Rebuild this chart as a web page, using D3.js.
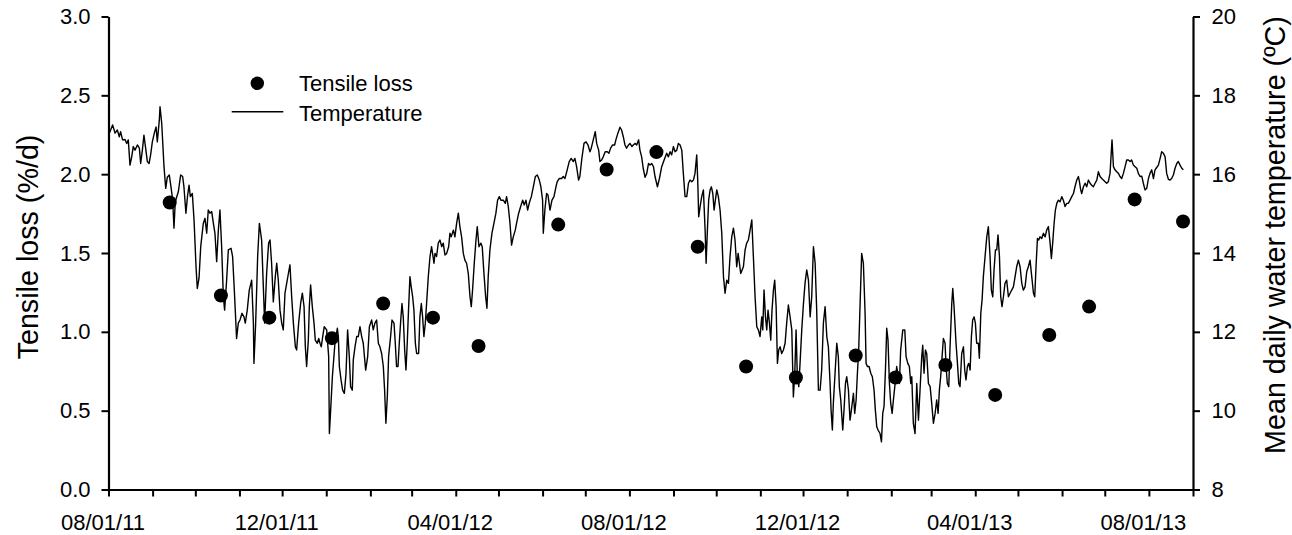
<!DOCTYPE html>
<html>
<head>
<meta charset="utf-8">
<script src="https://cdn.jsdelivr.net/npm/d3@7"></script>
<style>
  html, body { margin: 0; padding: 0; background: #fff; }
  svg { display: block; font-family: "Liberation Sans", Arial, Helvetica, sans-serif; }
</style>
</head>
<body>
<svg id="chart" width="1292" height="535"></svg>
<script>
// Tensile loss sampling dates and rates (%/d)
const tensileDates = ["2011-09-13","2011-10-19","2011-11-22","2012-01-05","2012-02-10","2012-03-16",
  "2012-04-17","2012-06-12","2012-07-16","2012-08-20","2012-09-18","2012-10-22","2012-11-26",
  "2013-01-07","2013-02-04","2013-03-11","2013-04-15","2013-05-23","2013-06-20","2013-07-22","2013-08-25"];
const tensileLoss = [1.82,1.23,1.09,0.96,1.18,1.09,0.91,1.68,2.03,2.14,1.54,0.78,0.71,0.85,0.71,0.79,0.60,0.98,1.16,1.84,1.70];

// Mean daily water temperature: [days since record start, °C]
const tempStart = "2011-08-01";
const temperatureReadings = [
[0,16.99],[2.9,17.25],[4.6,17.04],[6.2,17.12],[7.6,16.95],[8.5,17.08],[9.9,16.87],[11.6,16.88],[12.8,16.78],[13.9,16.87],
[15.1,16.23],[16.3,16.44],[17.4,16.70],[18.6,16.61],[20.3,16.74],[21.7,16.66],[22.6,16.27],[23.8,16.61],[24.9,16.99],[26.1,16.66],
[27.3,16.32],[28.5,16.27],[29.6,16.49],[30.8,16.82],[32.2,17.04],[33.4,17.20],[34.3,16.82],[35.7,17.37],[36.2,17.71],[37.4,17.29],
[39.0,16.19],[40.2,15.64],[41.3,15.92],[42.7,15.98],[43.9,15.68],[45.1,15.34],[46.0,14.63],[46.9,15.30],[49.1,15.56],[50.7,15.98],
[52.1,15.94],[53.0,15.68],[54.4,15.01],[55.6,15.47],[56.6,15.72],[57.5,15.43],[58.9,15.51],[60.1,14.84],[61.5,13.65],[62.4,13.10],
[63.6,13.36],[64.8,14.16],[66.6,14.75],[67.8,14.88],[69.0,14.50],[70.1,15.09],[71.3,15.01],[72.5,15.05],[73.7,14.75],[74.8,14.50],
[76.0,13.78],[77.2,14.58],[78.3,15.09],[79.5,14.16],[80.7,12.89],[81.6,12.55],[83.0,13.31],[84.2,14.08],[86.1,14.12],[87.2,13.91],
[88.4,13.06],[90.0,11.83],[91.2,12.22],[92.4,12.30],[93.8,12.47],[95.2,12.38],[96.1,12.22],[97.5,12.55],[98.9,13.06],[100.6,13.31],
[101.8,12.22],[102.2,11.20],[103.4,12.22],[104.8,13.91],[106.0,14.75],[107.6,14.33],[108.8,13.14],[109.7,12.22],[111.1,13.48],[112.5,14.25],
[113.5,14.33],[114.6,13.74],[115.8,12.76],[117.2,13.40],[118.2,13.74],[119.3,13.31],[120.5,12.55],[121.7,12.22],[122.8,12.05],[124.0,12.98],
[125.2,13.23],[126.4,13.48],[127.5,13.70],[128.7,12.89],[129.9,12.22],[131.3,11.62],[132.2,11.54],[133.6,12.22],[135.0,12.72],[136.2,12.98],
[137.4,12.64],[138.3,11.62],[139.2,11.12],[140.4,11.79],[141.1,12.64],[142.0,13.19],[143.2,12.64],[144.4,12.22],[145.3,11.79],[146.7,11.71],
[147.7,11.83],[148.6,11.71],[149.5,11.62],[150.5,11.88],[151.6,12.13],[153.3,12.05],[154.7,11.37],[155.2,9.42],[156.1,10.02],[157.3,10.86],
[159.1,11.71],[159.8,11.88],[160.8,12.09],[161.5,11.88],[162.2,11.12],[163.4,10.78],[164.5,10.52],[165.7,10.44],[166.9,10.95],[168.0,12.05],
[169.2,11.37],[170.1,10.61],[171.3,10.52],[172.0,11.29],[173.2,11.62],[174.4,11.88],[175.5,11.88],[176.7,12.13],[177.9,11.88],[179.0,11.71],
[180.7,11.03],[182.1,11.37],[183.3,12.13],[184.9,12.30],[186.0,12.05],[187.2,12.22],[188.4,12.30],[189.6,11.71],[190.7,11.62],[191.9,11.45],
[193.1,11.12],[194.0,10.52],[194.9,9.68],[195.9,10.35],[196.8,11.37],[198.2,11.88],[199.2,12.30],[200.6,12.22],[201.5,11.71],[202.4,11.12],
[203.4,11.12],[204.3,11.71],[205.2,12.22],[206.2,12.72],[207.1,12.38],[208.1,11.54],[209.0,11.03],[209.9,11.71],[210.9,12.64],[211.8,13.40],
[212.7,13.14],[213.7,12.89],[214.6,12.55],[215.6,11.71],[216.5,11.45],[217.9,11.45],[218.8,12.38],[219.8,12.72],[220.7,12.38],[221.6,11.88],
[222.6,12.22],[223.5,12.72],[224.7,13.40],[225.9,13.91],[227.0,14.16],[227.7,13.99],[228.7,13.74],[229.4,13.99],[230.5,13.91],[231.7,14.25],
[232.9,14.33],[234.1,14.16],[235.2,14.25],[236.4,13.95],[237.6,13.99],[239.0,14.16],[239.9,14.50],[240.8,14.41],[242.3,14.58],[243.4,14.41],
[244.6,14.75],[245.8,15.01],[246.9,14.67],[248.1,14.41],[249.3,13.99],[250.4,13.82],[251.6,13.74],[252.8,13.48],[254.0,12.89],[254.9,12.64],
[255.8,13.06],[257.0,13.74],[258.2,14.33],[259.1,14.67],[260.3,14.16],[261.7,14.25],[262.6,14.16],[263.8,13.48],[265.0,12.89],[265.9,12.60],
[266.8,13.40],[268.0,14.08],[269.4,14.50],[270.8,14.75],[272.2,15.01],[273.4,15.34],[274.6,15.43],[275.7,15.34],[277.4,15.34],[278.8,15.26],
[279.7,15.43],[280.9,15.18],[282.1,14.75],[283.2,14.20],[284.4,14.41],[285.8,14.58],[286.7,14.75],[288.2,15.01],[289.6,15.18],[291.0,15.34],
[292.1,15.22],[293.3,15.34],[294.5,15.09],[295.6,15.26],[297.1,15.43],[298.5,15.68],[299.9,15.94],[301.3,15.98],[302.7,15.85],[303.8,15.68],
[305.0,15.34],[305.5,14.50],[306.6,15.09],[307.8,15.51],[308.8,15.47],[310.2,15.09],[311.6,15.34],[313.0,15.43],[314.4,15.68],[315.3,15.81],
[316.7,15.89],[318.4,15.89],[319.5,15.94],[320.7,15.89],[322.3,16.11],[323.7,16.32],[325.1,16.40],[326.6,16.32],[327.7,16.40],[328.9,16.19],
[330.3,15.85],[331.2,15.94],[332.6,16.40],[334.1,16.78],[335.5,16.82],[336.9,16.74],[338.3,16.57],[339.2,16.66],[340.6,16.87],[342.0,17.08],
[343.0,16.78],[344.4,16.61],[345.3,16.32],[346.5,16.36],[347.6,16.44],[349.0,16.57],[350.5,16.57],[351.6,16.53],[352.8,16.66],[354.2,16.74],
[355.6,16.74],[356.5,16.87],[357.9,17.04],[359.4,17.19],[360.5,17.12],[361.7,16.95],[362.9,16.74],[364.0,16.66],[365.4,16.74],[366.4,16.78],
[367.8,16.70],[368.7,16.74],[370.1,16.78],[371.1,16.74],[372.5,16.87],[373.4,16.61],[374.6,16.44],[375.7,16.15],[377.0,15.92],[378.2,16.02],
[379.4,16.27],[380.5,16.23],[381.7,16.27],[382.9,16.19],[384.0,15.94],[385.7,15.68],[387.1,15.89],[388.7,16.19],[390.4,16.36],[392.2,16.53],
[393.4,16.44],[394.6,16.57],[395.7,16.49],[396.9,16.70],[398.1,16.57],[399.3,16.61],[400.4,16.78],[401.6,16.74],[402.8,16.61],[403.9,16.02],
[405.1,15.43],[406.3,15.43],[407.5,15.77],[408.6,15.85],[409.8,15.81],[411.0,15.85],[412.1,16.02],[413.3,16.49],[414.0,15.85],[414.7,14.92],
[415.7,15.18],[416.8,15.43],[418.0,15.60],[419.2,14.58],[419.9,13.74],[420.8,14.58],[421.7,15.34],[422.7,15.60],[423.6,15.68],[424.6,15.51],
[425.5,15.09],[426.4,15.34],[427.4,15.60],[428.5,15.43],[429.7,15.09],[430.9,14.50],[432.1,13.40],[433.2,12.98],[434.4,13.31],[435.6,13.23],
[436.7,13.91],[437.9,14.41],[439.1,14.63],[440.2,14.33],[441.4,13.65],[442.4,13.99],[443.3,13.74],[444.2,13.48],[445.2,13.57],[446.1,13.65],
[447.3,14.08],[448.4,14.25],[449.6,14.33],[450.8,14.58],[452.0,14.84],[453.1,13.91],[454.3,12.89],[455.5,12.13],[456.6,12.05],[457.8,11.88],
[459.0,12.38],[459.7,12.05],[460.6,13.06],[461.6,12.38],[462.5,12.05],[463.4,12.55],[464.4,12.22],[465.3,11.79],[466.2,12.55],[467.2,13.06],
[468.1,13.31],[469.1,12.64],[470.0,11.20],[470.9,11.54],[471.9,11.62],[473.0,11.45],[474.2,11.54],[475.4,11.71],[476.5,12.22],[477.7,12.68],
[478.9,12.38],[480.1,12.05],[481.2,10.35],[482.2,10.95],[483.1,12.05],[484.0,10.86],[485.0,10.61],[485.9,11.20],[487.1,12.05],[488.3,12.72],
[489.4,13.23],[490.6,13.57],[491.8,13.31],[493.0,12.38],[494.1,12.89],[495.3,14.16],[496.5,13.74],[497.6,12.55],[498.8,10.52],[500.0,10.52],
[501.1,11.03],[502.3,12.22],[503.5,12.64],[504.7,11.88],[505.8,11.62],[507.0,10.69],[507.7,10.02],[508.6,9.51],[509.3,10.19],[510.5,10.95],
[511.7,11.71],[512.8,11.37],[513.5,10.61],[514.5,10.27],[515.9,9.51],[516.8,10.02],[517.8,10.69],[518.7,10.86],[519.9,10.52],[521.0,9.76],
[522.0,10.02],[523.4,10.44],[524.3,9.93],[525.3,10.27],[526.2,10.95],[527.1,11.54],[528.1,12.72],[529.2,13.99],[530.4,13.74],[531.6,12.47],
[532.3,11.20],[533.2,11.12],[534.4,11.12],[535.6,10.95],[536.7,10.86],[537.9,10.52],[538.8,10.02],[539.8,9.59],[540.7,9.51],[542.1,9.42],
[543.1,9.21],[544.0,9.93],[544.9,10.10],[545.9,11.03],[546.8,12.09],[547.7,11.79],[548.7,10.69],[549.6,10.19],[550.6,9.93],[551.5,10.27],
[552.7,10.69],[553.8,11.12],[555.0,10.86],[555.7,10.69],[556.6,11.54],[558.1,12.05],[559.5,12.05],[560.4,11.37],[561.6,11.20],[562.7,11.12],
[563.7,10.69],[564.4,10.86],[565.5,9.68],[566.7,9.42],[567.9,10.69],[569.1,9.76],[570.2,10.52],[571.4,11.37],[572.1,11.66],[573.0,10.95],
[574.0,11.54],[574.9,11.45],[576.1,10.69],[577.3,10.61],[578.4,10.19],[579.6,9.68],[580.8,9.93],[581.9,10.27],[582.9,9.93],[583.8,10.52],
[584.7,10.86],[585.7,11.37],[586.6,11.83],[587.8,11.71],[588.5,11.12],[589.4,10.69],[590.4,10.61],[591.3,11.62],[592.5,12.72],[593.2,13.10],
[594.1,12.64],[595.5,11.71],[596.5,11.20],[597.4,10.69],[598.3,10.61],[599.5,11.45],[600.7,11.62],[601.6,11.03],[602.5,10.78],[603.5,11.12],
[604.4,11.20],[605.4,11.03],[606.3,11.88],[607.2,12.30],[608.2,12.38],[609.1,12.22],[610.0,11.71],[611.2,11.71],[611.9,11.33],[612.9,12.47],
[613.8,12.81],[614.7,13.40],[615.9,13.91],[617.1,14.41],[618.2,14.67],[619.4,13.91],[620.3,13.06],[621.3,12.89],[622.2,13.57],[623.2,14.08],
[624.1,14.08],[625.0,14.46],[626.0,13.91],[626.9,12.89],[627.8,12.64],[628.8,12.89],[629.9,13.23],[631.1,13.31],[632.3,12.89],[633.5,12.98],
[634.6,13.06],[635.8,13.14],[637.0,13.40],[638.1,13.65],[639.3,13.82],[640.5,13.65],[641.7,13.23],[642.8,13.06],[644.0,13.14],[645.2,13.53],
[646.3,13.65],[647.5,13.82],[648.7,13.40],[649.9,12.98],[650.8,12.89],[651.7,13.65],[652.7,14.37],[653.6,14.33],[654.5,14.41],[655.7,14.37],
[656.9,14.50],[658.1,14.41],[659.2,14.58],[660.4,14.67],[661.6,14.25],[662.5,13.86],[663.4,14.25],[664.4,14.75],[665.3,15.09],[666.3,15.26],
[667.4,15.34],[668.6,15.30],[669.8,15.43],[670.9,15.34],[672.1,15.18],[673.3,15.26],[674.4,15.26],[675.6,15.34],[676.8,15.43],[678.0,15.51],
[679.1,15.68],[680.3,15.85],[681.5,15.94],[682.2,15.81],[683.1,15.60],[683.8,15.51],[685.0,15.68],[686.2,15.77],[687.3,15.68],[688.5,15.85],
[689.7,15.77],[690.8,15.72],[692.0,15.68],[693.2,15.77],[694.4,15.85],[695.5,16.06],[696.7,15.94],[697.9,15.89],[699.0,15.85],[700.2,15.81],
[701.4,15.77],[702.5,15.81],[703.7,16.02],[704.4,16.44],[705.1,16.87],[706.1,16.19],[707.2,16.11],[708.4,16.06],[709.6,16.02],[710.7,15.94],
[711.9,15.89],[713.1,16.02],[714.3,16.19],[715.4,16.36],[716.6,16.36],[717.8,16.32],[718.9,16.36],[720.1,16.23],[721.3,16.19],[722.5,16.15],
[723.6,16.02],[724.8,15.94],[726.0,15.95],[727.1,15.77],[728.3,15.60],[729.5,15.64],[730.7,15.89],[731.8,16.02],[733.0,16.11],[734.2,15.89],
[735.3,16.11],[736.5,16.17],[737.7,16.23],[738.9,16.40],[740.0,16.57],[741.2,16.53],[742.4,16.44],[743.5,16.02],[744.7,15.87],[745.9,15.85],
[747.0,15.89],[748.2,15.98],[749.4,16.15],[750.6,16.27],[751.7,16.32],[752.9,16.23],[754.1,16.15],[755.2,16.11]
];

// Axis settings
const xDomain = ["2011-08-01", "2013-09-01"];
const lossTicks = [0, 0.5, 1.0, 1.5, 2.0, 2.5, 3.0];
const tempTicks = [8, 10, 12, 14, 16, 18, 20];
const labelMonths = [7, 11, 3]; // Aug, Dec, Apr get date labels

const parse = d3.timeParse("%Y-%m-%d");
const start = parse(tempStart);
const fmt = d3.timeFormat("%m/%d/%y");

const svg = d3.select("#chart");
const plot = { left: 108.5, right: 1193, top: 16.5, bottom: 489.5 };

const x = d3.scaleTime().domain(xDomain.map(parse)).range([plot.left, plot.right]);
const yLoss = d3.scaleLinear().domain([0, 3]).range([plot.bottom, plot.top]);
const yTemp = d3.scaleLinear().domain([8, 20]).range([plot.bottom, plot.top]);

const tickFont = 22;

// Temperature trace
const tempPoints = temperatureReadings.map(([d, t]) => ({
  date: d3.timeMinute.offset(start, Math.round(d * 1440)),
  t
}));
const line = d3.line().x(d => x(d.date)).y(d => yTemp(d.t));
svg.append("path")
  .datum(tempPoints)
  .attr("fill", "none")
  .attr("stroke", "#000")
  .attr("stroke-width", 1.4)
  .attr("stroke-linejoin", "round")
  .attr("d", line);

// Tensile loss points
svg.append("g")
  .selectAll("circle")
  .data(tensileDates.map((d, i) => ({ date: parse(d), v: tensileLoss[i] })))
  .join("circle")
  .attr("cx", d => x(d.date))
  .attr("cy", d => yLoss(d.v))
  .attr("r", 7)
  .attr("fill", "#000");

// Axes
function styleAxis(g) {
  g.select(".domain").attr("stroke", "#000").attr("stroke-width", 2.2);
  g.selectAll(".tick line").attr("stroke", "#000").attr("stroke-width", 2);
  g.selectAll(".tick text")
    .attr("fill", "#000")
    .style("font-size", tickFont + "px")
    .style("font-family", '"Liberation Sans", Arial, sans-serif');
}

const monthTicks = d3.timeMonth.range(x.domain()[0], d3.timeMonth.offset(x.domain()[1], 1));
const xAxis = d3.axisBottom(x)
  .tickValues(monthTicks)
  .tickSize(7)
  .tickSizeOuter(0)
  .tickFormat(d => labelMonths.includes(d.getMonth()) && d < x.domain()[1] ? fmt(d) : "");
svg.append("g")
  .attr("transform", `translate(0,${plot.bottom})`)
  .call(xAxis)
  .call(styleAxis)
  .call(g => g.selectAll(".tick text").attr("y", 40).attr("dy", 0).attr("dx", -6));

const yAxisL = d3.axisLeft(yLoss)
  .tickValues(lossTicks)
  .tickSize(7)
  .tickSizeOuter(0)
  .tickPadding(11)
  .tickFormat(d3.format(".1f"));
svg.append("g")
  .attr("transform", `translate(${plot.left},0)`)
  .call(yAxisL)
  .call(styleAxis);

const yAxisR = d3.axisRight(yTemp)
  .tickValues(tempTicks)
  .tickSize(7)
  .tickSizeOuter(0)
  .tickPadding(11.5)
  .tickFormat(d3.format("d"));
svg.append("g")
  .attr("transform", `translate(${plot.right},0)`)
  .call(yAxisR)
  .call(styleAxis);

// Axis titles
svg.append("text")
  .attr("transform", "translate(37.5,247) rotate(-90)")
  .attr("text-anchor", "middle")
  .style("font-size", "28.7px")
  .text("Tensile loss (%/d)");

svg.append("text")
  .attr("transform", "translate(1285,235) rotate(-90)")
  .attr("text-anchor", "middle")
  .style("font-size", "28.7px")
  .text("Mean daily water temperature (ºC)");

// Legend
const legend = svg.append("g");
legend.append("circle").attr("cx", 257.3).attr("cy", 83.3).attr("r", 6.7).attr("fill", "#000");
legend.append("text").attr("x", 299).attr("y", 91).style("font-size", tickFont + "px").text("Tensile loss");
legend.append("line")
  .attr("x1", 231.7).attr("x2", 283.3).attr("y1", 111.7).attr("y2", 111.7)
  .attr("stroke", "#000").attr("stroke-width", 1.4);
legend.append("text").attr("x", 299).attr("y", 120.5).style("font-size", tickFont + "px").text("Temperature");
</script>
</body>
</html>
